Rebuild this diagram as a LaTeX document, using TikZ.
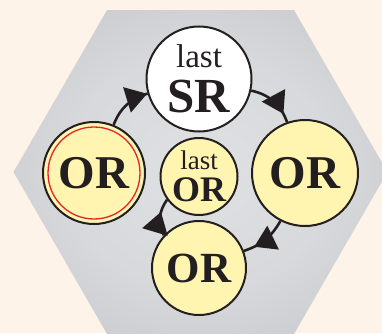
\documentclass[tikz,border=0pt]{standalone}
\usepackage{fontspec}
\setmainfont{Liberation Serif}
\usetikzlibrary{positioning,arrows.meta,decorations.markings}

\definecolor{paper}{HTML}{FDF3E8}
\definecolor{hexedge}{HTML}{B6B7BB}
\definecolor{hexmid}{HTML}{E0E1E3}
\definecolor{orfill}{HTML}{FFF5B1}
\definecolor{ink}{HTML}{231F20}
\definecolor{ringred}{HTML}{E3242B}
\pgfdeclareradialshading{hexshade}{\pgfpointorigin}{color(0bp)=(hexmid); color(18bp)=(hexmid!80!hexedge); color(50bp)=(hexedge)}

\begin{document}
\begin{tikzpicture}[x=1pt,y=1pt,
    orb/.style={circle, draw=ink, line width=2pt, fill=orfill, inner sep=-12pt, text=ink},
    twoline/.style={align=center},
    big/.style={font=\fontsize{47}{47}\selectfont\bfseries},
    ring/.style={draw=ringred, line width=1.3pt},
    flow/.style={draw=ink, line width=2.6pt, postaction={decorate},
        decoration={markings, mark=at position #1 with {\arrow{Triangle[length=21pt,width=26pt]}}}}
]
    % paper and hexagon
    \useasboundingbox (0,0) rectangle (382,333);
    \fill[paper] (0,0) rectangle (382,333);
    \shade[shading=hexshade, shift={(200.5,161)}]
        (0:187) -- (60:187) -- (120:187) -- (180:187) -- (240:187) -- (300:187) -- cycle;

    % the middle one first, the ring round it
    \node[orb, twoline, minimum size=77pt, font=\fontsize{27}{32}\selectfont] (cnode) at (199,156.5)
        {last\\{\bfseries\fontsize{36}{36}\selectfont OR}};
    \node[on grid, orb, twoline, fill=white, minimum size=105pt, font=\fontsize{33}{45}\selectfont,
        above=97.5pt of cnode] (srnode)
        {last\\{\bfseries\fontsize{49}{49}\selectfont SR}};
    \node[on grid, orb, big, minimum size=102pt, above left=3.5pt and 105pt of cnode] (lnode) {OR};
    \node[on grid, orb, big, minimum size=106pt, above right=3.5pt and 106pt of cnode] (rnode) {OR};
    \node[on grid, orb, minimum size=94pt, font=\fontsize{43}{43}\selectfont\bfseries,
        below=91.5pt of cnode] (bnode) {OR};

    \draw[ring] (lnode.center) circle[radius=46];

    % the cycle
    \draw[flow=0.99] (lnode) to[bend left=26] (srnode);
    \draw[flow=0.82] (srnode) to[bend left=29] (rnode);
    \draw[flow=0.77] (rnode) to[bend left=21] (bnode);
    \draw[flow=0.64] (bnode.137) to[out=120, in=235] (cnode.216);
\end{tikzpicture}
\end{document}
